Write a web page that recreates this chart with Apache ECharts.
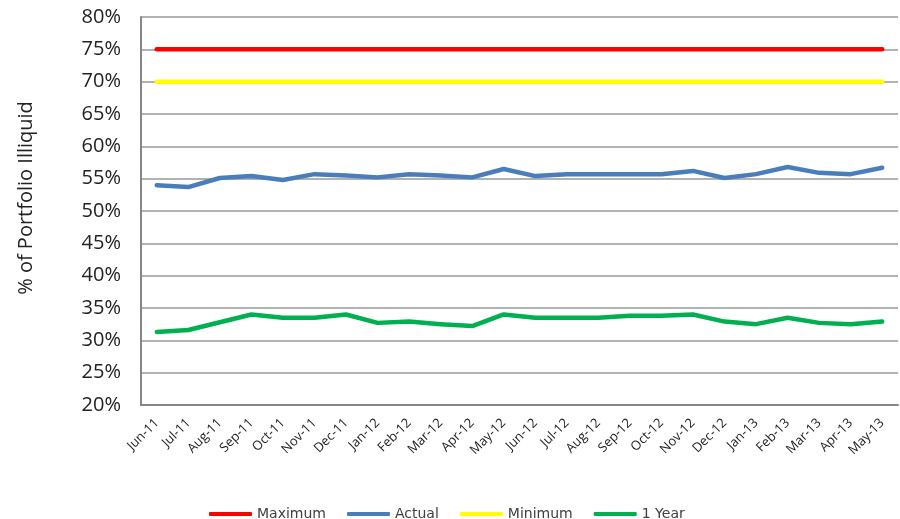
<!DOCTYPE html>
<html>
<head>
<meta charset="utf-8">
<title>% of Portfolio Illiquid</title>
<script src="https://cdn.jsdelivr.net/npm/echarts@6/dist/echarts.min.js"></script>
<style>
  html, body { margin: 0; padding: 0; background: #fff; }
  #chart { width: 900px; height: 519px; }
</style>
</head>
<body>
<div id="chart"></div>
<script>
// Month labels along the category axis
const months = [
  'Jun-11', 'Jul-11', 'Aug-11', 'Sep-11', 'Oct-11', 'Nov-11', 'Dec-11',
  'Jan-12', 'Feb-12', 'Mar-12', 'Apr-12', 'May-12', 'Jun-12', 'Jul-12',
  'Aug-12', 'Sep-12', 'Oct-12', 'Nov-12', 'Dec-12', 'Jan-13', 'Feb-13',
  'Mar-13', 'Apr-13', 'May-13'
];

// Percent of portfolio that is illiquid, by month
const maximum = [75, 75, 75, 75, 75, 75, 75, 75, 75, 75, 75, 75,
                 75, 75, 75, 75, 75, 75, 75, 75, 75, 75, 75, 75];
const actual = [54.0, 53.7, 55.1, 55.4, 54.8, 55.7, 55.5, 55.2, 55.7, 55.5, 55.2, 56.5,
                55.4, 55.7, 55.7, 55.7, 55.7, 56.2, 55.1, 55.7, 56.8, 55.9, 55.7, 56.7];
const minimum = [70, 70, 70, 70, 70, 70, 70, 70, 70, 70, 70, 70,
                 70, 70, 70, 70, 70, 70, 70, 70, 70, 70, 70, 70];
const oneYear = [31.3, 31.6, 32.8, 34.0, 33.5, 33.5, 34.0, 32.7, 32.9, 32.5, 32.2, 34.0,
                 33.5, 33.5, 33.5, 33.8, 33.8, 34.0, 32.9, 32.5, 33.5, 32.7, 32.5, 32.9];

// Y axis scale
const yMin = 20;
const yMax = 80;
const yStep = 5;

const chart = echarts.init(document.getElementById('chart'), null, { renderer: 'canvas' });

function lineSeries(name, data, color) {
  return {
    name: name,
    type: 'line',
    data: data,
    symbol: 'none',
    smooth: false,
    lineStyle: { color: color, width: 4.5, cap: 'round', join: 'round' },
    itemStyle: { color: color },
    emphasis: { disabled: true }
  };
}

chart.setOption({
  animation: false,
  backgroundColor: '#ffffff',
  grid: { left: 141, right: 2, top: 17, bottom: 114, containLabel: false },
  legend: {
    left: 204,
    top: 502,
    icon: 'roundRect',
    itemWidth: 43,
    itemHeight: 4,
    itemGap: 21,
    textStyle: { fontFamily: 'DejaVu Sans', fontSize: 14, color: '#404040' },
    data: ['Maximum', 'Actual', 'Minimum', '1 Year']
  },
  graphic: [{
    type: 'text',
    x: 26,
    y: 198,
    rotation: Math.PI / 2,
    style: {
      text: '% of Portfolio Illiquid',
      font: '20px "Open Sans"',
      fill: '#222',
      align: 'center',
      verticalAlign: 'middle'
    }
  }],
  xAxis: {
    type: 'category',
    data: months,
    boundaryGap: true,
    axisLine: { show: true, lineStyle: { color: '#868686', width: 2 } },
    axisTick: { show: false },
    axisLabel: {
      rotate: 45,
      interval: 0,
      margin: 16,
      fontFamily: 'Open Sans',
      fontSize: 13,
      color: '#222'
    },
    splitLine: { show: false }
  },
  yAxis: {
    type: 'value',
    min: yMin,
    max: yMax,
    interval: yStep,
    axisLine: { show: true, lineStyle: { color: '#868686', width: 2 } },
    axisTick: { show: false },
    axisLabel: {
      formatter: '{value}%',
      margin: 20,
      fontFamily: 'Open Sans',
      fontSize: 20,
      color: '#222'
    },
    splitLine: { show: true, lineStyle: { color: '#999999', width: 1.5 } }
  },
  series: [
    lineSeries('Maximum', maximum, '#ff0000'),
    lineSeries('Actual', actual, '#4a7ebb'),
    lineSeries('Minimum', minimum, '#ffff00'),
    lineSeries('1 Year', oneYear, '#00b050')
  ]
});
</script>
</body>
</html>
